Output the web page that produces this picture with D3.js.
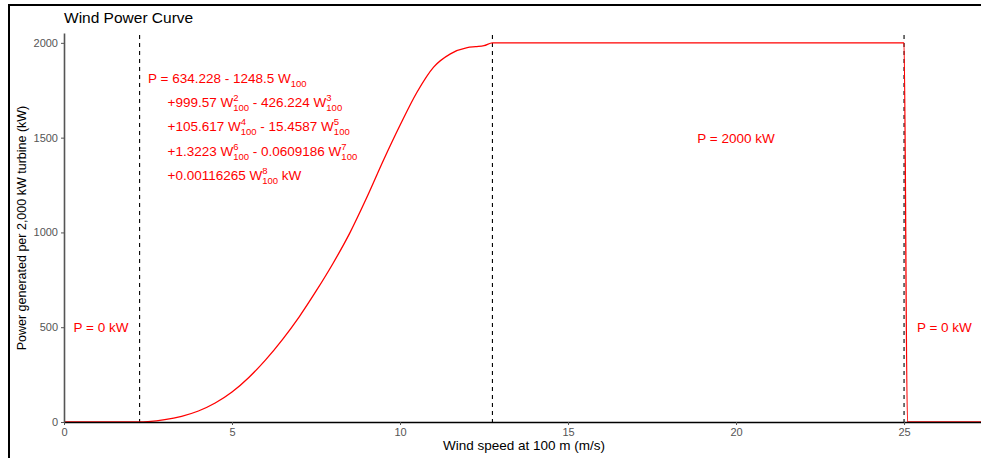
<!DOCTYPE html>
<html>
<head>
<meta charset="utf-8">
<script src="https://cdn.jsdelivr.net/npm/d3@7"></script>
<style>
  body { margin: 0; background: #fff; }
  svg text { font-family: "Liberation Sans", Arial, sans-serif; }
</style>
</head>
<body>
<script>
// wind speed (m/s) and power (kW)
let windSpeed = [0, 2.25, 2.5, 3, 3.5, 4, 4.5, 5, 5.5, 6, 6.5, 7, 7.5, 8, 8.5, 9, 9.5, 10,
  10.5, 11, 11.5, 12, 12.25, 12.5, 12.75, 25, 25.1, 27.3]
let power = [0, 0, 2, 12, 30, 58, 100, 158, 235, 328, 435, 555, 690, 835, 995, 1180, 1378, 1565,
  1738, 1872, 1942, 1975, 1980, 1985, 2000, 2000, 0, 0]

// cut-in, rated and cut-out speeds
let cutSpeeds = [2.25, 12.75, 25]

let xTicks = [0, 5, 10, 15, 20, 25]
let yTicks = [0, 500, 1000, 1500, 2000]

let zeroLabels = [
  { w: 1.1, p: 500, text: 'P = 0 kW' },
  { w: 26.2, p: 500, text: 'P = 0 kW' },
  { w: 20, p: 1500, text: 'P = 2000 kW' },
]

let equationLines = [
  [{ t: 'P = 634.228 - 1248.5 W', sub: '100' }],
  [{ t: '+999.57 W', sup: '2', sub: '100' }, { t: ' - 426.224 W', sup: '3', sub: '100' }],
  [{ t: '+105.617 W', sup: '4', sub: '100' }, { t: ' - 15.4587 W', sup: '5', sub: '100' }],
  [{ t: '+1.3223 W', sup: '6', sub: '100' }, { t: ' - 0.0609186 W', sup: '7', sub: '100' }],
  [{ t: '+0.00116265 W', sup: '8', sub: '100' }, { t: ' kW' }],
]

let m = { width: 981, height: 458, left: 64, right: 981, top: 33, bottom: 422 }
let red = '#ff0000'

let svg = d3.select('body')
  .append('svg')
  .attr('width', m.width)
  .attr('height', m.height)

let xScale = d3.scaleLinear()
  .domain([0, 27.29])
  .range([m.left, m.right])

let yScale = d3.scaleLinear()
  .domain([0, 2052])
  .range([m.bottom, m.top])

// outer frame (top and left only are visible)
svg.append('path')
  .attr('d', 'M9,' + m.height + 'V5H' + m.width)
  .attr('fill', 'none')
  .attr('stroke', '#000')
  .attr('stroke-width', 2)

// title
svg.append('text')
  .attr('x', m.left)
  .attr('y', 23)
  .attr('font-size', 15.5)
  .attr('fill', '#000')
  .text('Wind Power Curve')

// dashed cut lines
svg.selectAll('.cut')
  .data(cutSpeeds)
  .enter()
  .append('line')
    .attr('x1', d => xScale(d))
    .attr('x2', d => xScale(d))
    .attr('y1', m.top + 2)
    .attr('y2', m.bottom)
    .attr('stroke', '#000')
    .attr('stroke-width', 1.1)
    .attr('stroke-dasharray', '4,4')

// power curve
let line = d3.line()
  .x((d, i) => xScale(windSpeed[i]))
  .y(d => yScale(d))
  .curve(d3.curveMonotoneX)

svg.append('path')
  .datum(power)
  .attr('d', line)
  .attr('fill', 'none')
  .attr('stroke', red)
  .attr('stroke-width', 1.3)

// axes
let xAxis = d3.axisBottom(xScale).tickValues(xTicks)
  .tickSizeInner(3).tickSizeOuter(0).tickPadding(3)
let yAxis = d3.axisLeft(yScale).tickValues(yTicks).tickFormat(d3.format('d'))
  .tickSizeInner(3).tickSizeOuter(0).tickPadding(3)

let gx = svg.append('g')
  .attr('transform', 'translate(0,' + m.bottom + ')')
  .call(xAxis)
gx.select('.domain').attr('stroke', '#000').attr('stroke-width', 1.6)

let gy = svg.append('g')
  .attr('transform', 'translate(' + m.left + ',0)')
  .call(yAxis)
gy.select('.domain').attr('stroke', '#555').attr('stroke-width', 1.6)

svg.selectAll('.tick line').attr('stroke', '#555')
svg.selectAll('.tick text')
  .attr('fill', '#555')
  .attr('font-size', 11)
  .attr('font-family', '"Liberation Sans", Arial, sans-serif')

// axis titles
svg.append('text')
  .attr('x', 524)
  .attr('y', 450)
  .attr('text-anchor', 'middle')
  .attr('font-size', 13.5)
  .text('Wind speed at 100 m (m/s)')

svg.append('text')
  .attr('transform', 'translate(26,228) rotate(-90)')
  .attr('text-anchor', 'middle')
  .attr('font-size', 12.5)
  .text('Power generated per 2,000 kW turbine (kW)')

// region labels
svg.selectAll('.zero')
  .data(zeroLabels)
  .enter()
  .append('text')
    .attr('x', d => xScale(d.w))
    .attr('y', d => yScale(d.p) + 5)
    .attr('text-anchor', 'middle')
    .attr('font-size', 13.5)
    .attr('fill', red)
    .text(d => d.text)

// polynomial
equationLines.forEach(function(terms, i) {
  let base = 83 + i * 24.2
  let txt = svg.append('text')
    .attr('x', i == 0 ? 148 : 167.5)
    .attr('y', base)
    .attr('font-size', 13.5)
    .attr('fill', red)
  terms.forEach(function(term) {
    txt.append('tspan').attr('y', base).text(term.t)
    let supW = 0
    if (term.sup) {
      let s = txt.append('tspan')
        .attr('y', base - 6)
        .attr('font-size', 9.5)
        .text(term.sup)
      supW = s.node().getComputedTextLength()
    }
    if (term.sub) {
      txt.append('tspan')
        .attr('y', base + 4)
        .attr('dx', -supW)
        .attr('font-size', 9.5)
        .text(term.sub)
    }
  })
})
</script>
</body>
</html>
